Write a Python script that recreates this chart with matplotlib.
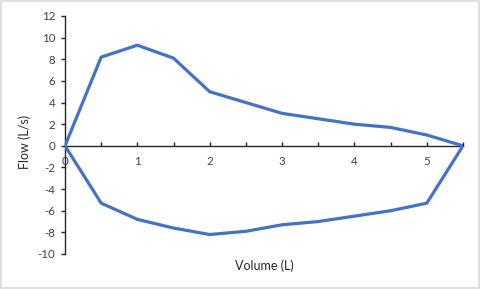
import matplotlib
matplotlib.use("Agg")
import matplotlib.pyplot as plt
from matplotlib.patches import Rectangle
from matplotlib.ticker import MultipleLocator

volume = [0, 0.5, 1, 1.5, 2, 2.5, 3, 3.5, 4, 4.5, 5, 5.5]
flow_exp = [0, 8.2, 9.3, 8.1, 5.0, 4.0, 3.0, 2.5, 2.0, 1.7, 1.0, 0]
flow_insp = [0, -5.3, -6.8, -7.6, -8.2, -7.9, -7.3, -7.0, -6.5, -6.0, -5.3, 0]
x_ticks = [0, 1, 2, 3, 4, 5]
y_ticks = [-10, -8, -6, -4, -2, 0, 2, 4, 6, 8, 10, 12]

plt.rcParams['font.family'] = ['Lato', 'DejaVu Sans']
plt.rcParams['axes.unicode_minus'] = False

fig = plt.figure(figsize=(4.81, 2.89), dpi=100)
fig.patches.append(Rectangle((0.002, 0.003), 0.994, 0.993, transform=fig.transFigure,
                             fill=False, edgecolor='#D9D9D9', linewidth=1.2))
ax = fig.add_axes([65/481, 35/289, 398/481, 238/289])

color = '#4472C4'
ax.plot(volume, flow_exp, color=color, linewidth=2.3, solid_joinstyle='round', zorder=3)
ax.plot(volume, flow_insp, color=color, linewidth=2.3, solid_joinstyle='round', zorder=3)

ax.set_xlim(0, 5.5)
ax.set_ylim(-10, 12)
ax.set_xticks(x_ticks)
ax.xaxis.set_minor_locator(MultipleLocator(0.5))
ax.set_yticks(y_ticks)

for s in ['top', 'right']:
    ax.spines[s].set_visible(False)
ax.spines['bottom'].set_position(('data', 0))
ax.spines['bottom'].set_color('#262626')
ax.spines['left'].set_color('#262626')
ax.spines['bottom'].set_linewidth(1.0)
ax.spines['left'].set_linewidth(1.0)

ax.tick_params(axis='x', which='both', direction='in', length=3, width=1, color='#262626',
               labelsize=8.3, labelcolor='#404040', pad=7)
ax.tick_params(axis='y', direction='out', length=3, width=1, color='#262626',
               labelsize=8.3, labelcolor='#404040', pad=4)

fig.text(264/481, 1 - 266/289, 'Volume (L)', ha='center', va='center', fontsize=9, color='#262626')
fig.text(25/481, 1 - 142/289, 'Flow (L/s)', ha='center', va='center', rotation=90, fontsize=9, color='#262626')

fig.savefig('out.png', dpi=100)
